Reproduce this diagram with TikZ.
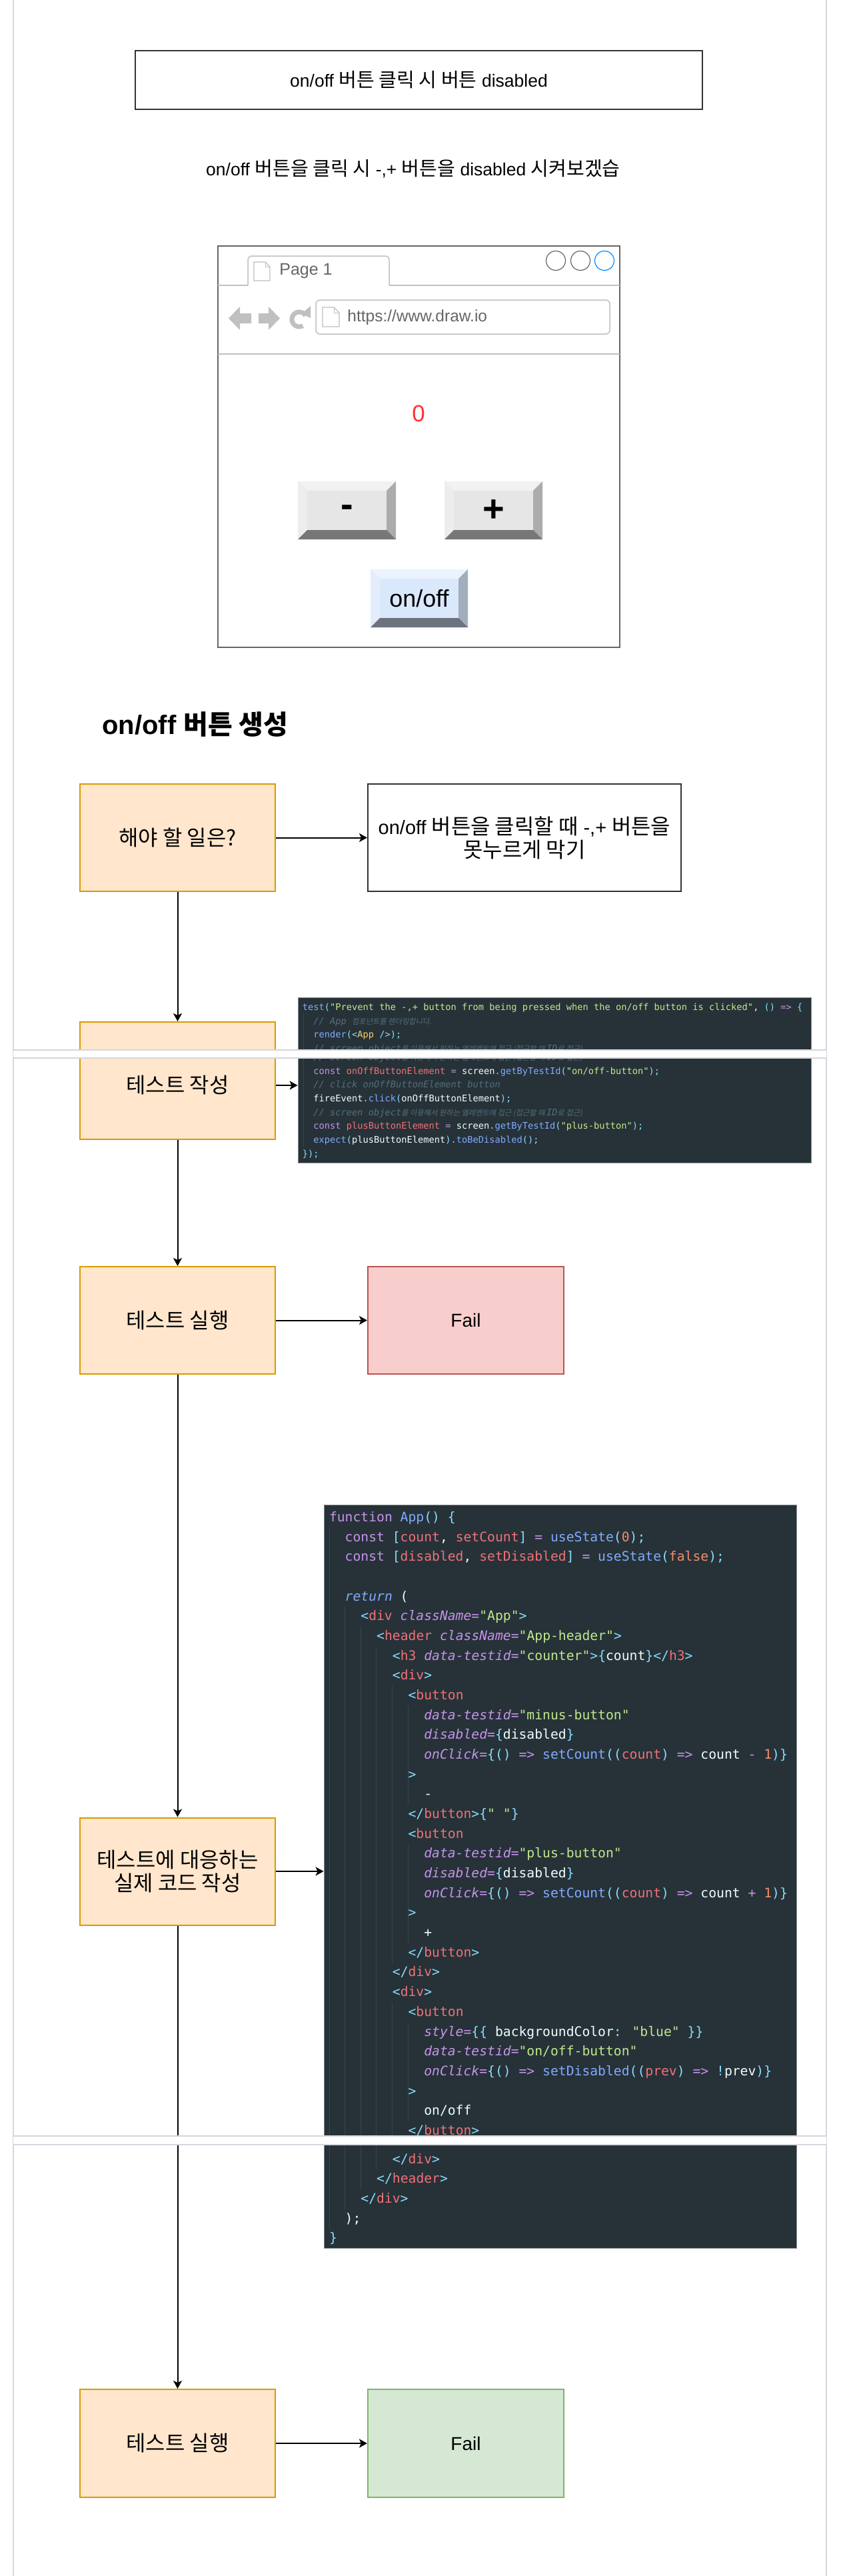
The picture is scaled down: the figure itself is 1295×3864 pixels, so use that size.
\documentclass[tikz,border=0pt]{standalone}
\usepackage{fontspec}
\setmainfont{Liberation Sans}
\newfontfamily\kr[Scale=1.1]{Noto Sans CJK KR}
\newfontfamily\krh{Noto Sans CJK KR}
\newfontfamily\krit[FakeSlant=0.2,Scale=0.82]{Noto Sans CJK KR}
\newfontfamily\codefont{DejaVu Sans Mono}
\usetikzlibrary{arrows.meta}
\definecolor{cOrgF}{HTML}{FFE6CC}
\definecolor{cOrgS}{HTML}{D79B00}
\definecolor{cRedF}{HTML}{F8CECC}
\definecolor{cRedS}{HTML}{B85450}
\definecolor{cGrnF}{HTML}{D5E8D4}
\definecolor{cGrnS}{HTML}{82B366}
\definecolor{cPage}{HTML}{D4D7DD}
\definecolor{cDark}{HTML}{333333}
\definecolor{cBr}{HTML}{666666}
\definecolor{cLt}{HTML}{C0C0C0}
\definecolor{cBlueC}{HTML}{008CFF}
\definecolor{cZero}{HTML}{FF3333}
\definecolor{cdBg}{HTML}{263238}
\definecolor{cdGuide}{HTML}{36454E}
\definecolor{cdBorder}{HTML}{8A9096}
\definecolor{cdBlue}{HTML}{82AAFF}
\definecolor{cdCyan}{HTML}{89DDFF}
\definecolor{cdGreen}{HTML}{C3E88D}
\definecolor{cdRed}{HTML}{F07178}
\definecolor{cdPurple}{HTML}{C792EA}
\definecolor{cdOrange}{HTML}{F78C6C}
\definecolor{cdYellow}{HTML}{FFCB6B}
\definecolor{cdWhite}{HTML}{EEFFFF}
\definecolor{cdComment}{HTML}{546E7A}
\definecolor{gbFace}{HTML}{E6E6E6}
\definecolor{gbTop}{HTML}{F2F2F2}
\definecolor{gbLeft}{HTML}{EDEDED}
\definecolor{gbRight}{HTML}{ACACAC}
\definecolor{gbBot}{HTML}{777777}
\definecolor{bbFace}{HTML}{DAE8FC}
\definecolor{bbTop}{HTML}{EBF3FE}
\definecolor{bbLeft}{HTML}{E3EDFC}
\definecolor{bbRight}{HTML}{A3AEBD}
\definecolor{bbBot}{HTML}{6C727E}
\newcommand\cdB[1]{\textcolor{cdBlue}{#1}}
\newcommand\cdC[1]{\textcolor{cdCyan}{#1}}
\newcommand\cdG[1]{\textcolor{cdGreen}{#1}}
\newcommand\cdR[1]{\textcolor{cdRed}{#1}}
\newcommand\cdP[1]{\textcolor{cdPurple}{#1}}
\newcommand\cdO[1]{\textcolor{cdOrange}{#1}}
\newcommand\cdY[1]{\textcolor{cdYellow}{#1}}
\newcommand\cdW[1]{\textcolor{cdWhite}{#1}}
\newcommand\cdI[1]{\textcolor{cdPurple}{\itshape #1}}
\newcommand\cdK[1]{\textcolor{cdComment}{\itshape #1}}
\newcommand\cdScreenCmt{\cdK{// screen object{\krit 를 이용해서 원하는 엘레멘트에 접근 (접근할 때 }ID{\krit 로 접근)}}}
\newcommand\bevelbtn[9]{%
  \fill[#5] (#1,#2) rectangle (#3,#4);
  \fill[#6] (#1,#2) -- (#3,#2) -- ({#3-14},{#2+14}) -- ({#1+14},{#2+14}) -- cycle;
  \fill[#7] (#1,#2) -- ({#1+14},{#2+14}) -- ({#1+14},{#4-14}) -- (#1,#4) -- cycle;
  \fill[#8] (#3,#2) -- (#3,#4) -- ({#3-14},{#4-14}) -- ({#3-14},{#2+14}) -- cycle;
  \fill[#9] (#1,#4) -- ({#1+14},{#4-14}) -- ({#3-14},{#4-14}) -- (#3,#4) -- cycle;
}
\begin{document}
\begin{tikzpicture}[x=0.5pt,y=-0.5pt,
  obox/.style={draw=cOrgS, fill=cOrgF, line width=1pt, minimum width=146.5pt, minimum height=80.5pt, inner sep=0pt, align=center, font=\kr\fontsize{14.5pt}{17.5pt}\selectfont},
  redbox/.style={draw=cRedS, fill=cRedF, line width=1pt, minimum width=147pt, minimum height=80.5pt, inner sep=0pt, font=\fontsize{14pt}{17pt}\selectfont},
  grnbox/.style={draw=cGrnS, fill=cGrnF, line width=1pt, minimum width=147pt, minimum height=81pt, inner sep=0pt, font=\fontsize{14pt}{17pt}\selectfont},
  wbox/.style={draw=cDark, fill=white, line width=1pt, inner sep=0pt, align=center},
  boxtext/.style={inner sep=0pt, font=\kr\fontsize{14.5pt}{17.5pt}\selectfont},
  arr/.style={-{Stealth[length=6pt,width=6.5pt,inset=1.5pt]}, line width=1pt, black},
  codebg/.style={fill=cdBg, draw=cdBorder, line width=0.4pt, inner sep=0pt},
  cone/.style={anchor=mid west, inner sep=0pt, text=cdWhite, font=\codefont\fontsize{6.85pt}{8pt}\selectfont},
  ctwo/.style={anchor=mid west, inner sep=0pt, text=cdWhite, font=\codefont\fontsize{9.85pt}{11pt}\selectfont},
  guide/.style={draw=cdGuide, line width=0.5pt},
  pageline/.style={draw=cPage, line width=0.75pt}
]
\useasboundingbox (0,0) rectangle (1295,3864);
\fill[white] (0,0) rectangle (1295,3864);
\draw[pageline] (20,0) -- (20,3864);
\draw[pageline] (1240,0) -- (1240,3864);

% title and subtitle
\node[wbox, minimum width=425.5pt, minimum height=44pt, font=\fontsize{13.25pt}{16pt}\selectfont] (title) at (628.5,120) {on/off {\kr 버튼 클릭 시 버튼} disabled};
\node[inner sep=0pt, font=\fontsize{13.25pt}{16pt}\selectfont] (subtitle) at (620,253) {on/off {\kr 버튼을 클릭 시} -,+ {\kr 버튼을} disabled {\kr 시켜보겠습}};

% browser mockup
\node[draw=cBr, fill=white, line width=0.9pt, minimum width=301.5pt, minimum height=301pt, inner sep=0pt] (browser) at (628.5,670) {};
\draw[cLt, line width=0.75pt, fill=white, rounded corners=3pt] (372,428) -- (372,384) -- (584,384) -- (584,428);
\draw[cLt, line width=0.75pt] (327,428) -- (372,428) (584,428) -- (930,428);
\draw[cLt, line width=0.6pt, fill=white] (381,393) -- (398,393) -- (405,400) -- (405,421) -- (381,421) -- cycle;
\draw[cLt, line width=0.5pt] (398,393) -- (398,400) -- (405,400);
\node[anchor=west, text=cBr, inner sep=0pt, font=\fontsize{12.5pt}{15pt}\selectfont] (tabtext) at (419,406) {Page 1};
\draw[cBr, line width=0.6pt] (834,391) circle[radius=7.25pt];
\draw[cBr, line width=0.6pt] (871,391) circle[radius=7.25pt];
\draw[cBlueC, line width=0.6pt] (907,391) circle[radius=7.25pt];
\fill[cLt] (343,477.5) -- (360,460) -- (360,470) -- (377,470) -- (377,485) -- (360,485) -- (360,495) -- cycle;
\fill[cLt] (420,477.5) -- (403,460) -- (403,470) -- (388,470) -- (388,485) -- (403,485) -- (403,495) -- cycle;
\draw[cLt, line width=3.5pt] plot[domain=60:330, samples=40, variable=\t] ({449+11*cos(\t)},{479+11*sin(\t)});
\fill[cLt] (452,471) -- (466,459) -- (466,477) -- cycle;
\draw[cLt, line width=0.75pt, rounded corners=3pt] (474,450) rectangle (915,501);
\draw[cLt, line width=0.6pt, fill=white] (484,461) -- (501,461) -- (509,469) -- (509,490) -- (484,490) -- cycle;
\draw[cLt, line width=0.5pt] (501,461) -- (501,469) -- (509,469);
\node[anchor=west, text=cBr, inner sep=0pt, font=\fontsize{12.25pt}{15pt}\selectfont] (url) at (521,476) {https://www.draw.io};
\draw[cLt, line width=0.75pt] (327,531) -- (930,531);
\node[text=cZero, inner sep=0pt, font=\fontsize{17.5pt}{20pt}\selectfont] (zero) at (628,620) {0};
\bevelbtn{447}{722}{594}{809}{gbFace}{gbTop}{gbLeft}{gbRight}{gbBot}
\bevelbtn{667}{722}{814}{809}{gbFace}{gbTop}{gbLeft}{gbRight}{gbBot}
\bevelbtn{556}{854}{702}{941}{bbFace}{bbTop}{bbLeft}{bbRight}{bbBot}
\node[inner sep=0pt, font=\bfseries\fontsize{28pt}{30pt}\selectfont] (minus) at (520.5,767) {-};
\node[inner sep=0pt, font=\bfseries\fontsize{28pt}{30pt}\selectfont] (plus) at (740.5,766) {+};
\node[inner sep=0pt, font=\fontsize{18pt}{20pt}\selectfont] (onoff) at (629,898) {on/off};

% heading
\node[anchor=west, inner sep=0pt, font=\bfseries\fontsize{20pt}{24pt}\selectfont] (heading) at (153,1087) {on/off {\krh\bfseries 버튼 생성}};

% flow
\node[obox] (todo) at (266.5,1256.5) {해야 할 일은?};
\node[wbox, minimum width=235pt, minimum height=80.5pt, font=\fontsize{14.5pt}{17.5pt}\selectfont] (goal) at (787,1256.5) {on/off {\kr 버튼을 클릭할 때} -,+ {\kr 버튼을}\\{\kr 못누르게 막기}};
\node[obox, minimum height=88pt] (write) at (266.5,1621) {};
\node[boxtext] (writet) at (266.5,1628) {테스트 작성};
\node[obox] (run1) at (266.5,1980.5) {테스트 실행};
\node[redbox] (fail1) at (699,1980.5) {Fail};
\node[obox] (impl) at (266.5,2807) {테스트에 대응하는\\실제 코드 작성};
\node[obox, minimum height=81pt] (run2) at (266.5,3665) {테스트 실행};
\node[grnbox] (fail2) at (699,3665) {Fail};

% code image 1
\node[codebg, minimum width=385pt, minimum height=124pt] (code1) at (832,1620) {};
\draw[guide] (455,1520) -- (455,1720);
\begin{scope}
\clip (447,1496) rectangle (1217,1575);
\node[cone] (ca0) at (453.5,1510) {\cdB{test}\cdC{(}\cdG{"Prevent the -,+ button from being pressed when the on/off button is clicked"}\cdW{,} \cdC{()} \cdP{=>} \cdC{\{}};
\node[cone] (ca1) at (470,1530.7) {\cdK{// App {\krit 컴포넌트를 렌더링합니다.}}};
\node[cone] (ca2) at (470,1551.4) {\cdB{render}\cdC{(<}\cdY{App} \cdC{/>);}};
\node[cone] (ca3) at (470,1572.1) {\cdScreenCmt};
\end{scope}
\begin{scope}
\clip (447,1587) rectangle (1217,1744);
\node[cone] (cb3) at (470,1585.1) {\cdScreenCmt};
\node[cone] (cb4) at (470,1605.8) {\cdP{const} \cdR{onOffButtonElement} \cdP{=} \cdW{screen}\cdC{.}\cdB{getByTestId}\cdC{(}\cdG{"on/off-button"}\cdC{);}};
\node[cone] (cb5) at (470,1626.5) {\cdK{// click onOffButtonElement button}};
\node[cone] (cb6) at (470,1647.2) {\cdW{fireEvent}\cdC{.}\cdB{click}\cdC{(}\cdW{onOffButtonElement}\cdC{);}};
\node[cone] (cb7) at (470,1667.9) {\cdScreenCmt};
\node[cone] (cb8) at (470,1688.6) {\cdP{const} \cdR{plusButtonElement} \cdP{=} \cdW{screen}\cdC{.}\cdB{getByTestId}\cdC{(}\cdG{"plus-button"}\cdC{);}};
\node[cone] (cb9) at (470,1709.3) {\cdB{expect}\cdC{(}\cdW{plusButtonElement}\cdC{).}\cdB{toBeDisabled}\cdC{();}};
\node[cone] (cb10) at (453.5,1730) {\cdC{\});}};
\end{scope}

% code image 2
\node[codebg, minimum width=354.5pt, minimum height=557.5pt] (code2) at (840.5,2814.5) {};
\draw[guide] (494,2292) -- (494,3344);
\draw[guide] (517.3,2410) -- (517.3,3314);
\draw[guide] (541,2440) -- (541,3284);
\draw[guide] (564.8,2470) -- (564.8,3255);
\draw[guide] (588.5,2529) -- (588.5,2945);
\draw[guide] (588.5,3004) -- (588.5,3212);
\draw[guide] (612.2,2559) -- (612.2,2707);
\draw[guide] (612.2,2767) -- (612.2,2915);
\draw[guide] (612.2,3034) -- (612.2,3182);
\begin{scope}
\clip (486,2257) rectangle (1195,3204);
\node[ctwo] (k0) at (493.6,2277.0) {\cdP{function} \cdB{App}\cdC{()} \cdC{\{}};
\node[ctwo] (k1) at (517.3,2306.7) {\cdP{const} \cdC{[}\cdR{count}\cdW{,} \cdR{setCount}\cdC{]} \cdP{=} \cdB{useState}\cdC{(}\cdO{0}\cdC{);}};
\node[ctwo] (k2) at (517.3,2336.4) {\cdP{const} \cdC{[}\cdR{disabled}\cdW{,} \cdR{setDisabled}\cdC{]} \cdP{=} \cdB{useState}\cdC{(}\cdO{false}\cdC{);}};
\node[ctwo] (k4) at (517.3,2395.7) {\textcolor{cdBlue}{\itshape return} \cdW{(}};
\node[ctwo] (k5) at (541.0,2425.4) {\cdC{<}\cdR{div} \cdI{className}\cdP{=}\cdG{"App"}\cdC{>}};
\node[ctwo] (k6) at (564.8,2455.1) {\cdC{<}\cdR{header} \cdI{className}\cdP{=}\cdG{"App-header"}\cdC{>}};
\node[ctwo] (k7) at (588.5,2484.8) {\cdC{<}\cdR{h3} \cdI{data-testid}\cdP{=}\cdG{"counter"}\cdC{>\{}\cdW{count}\cdC{\}</}\cdR{h3}\cdC{>}};
\node[ctwo] (k8) at (588.5,2514.4) {\cdC{<}\cdR{div}\cdC{>}};
\node[ctwo] (k9) at (612.2,2544.1) {\cdC{<}\cdR{button}};
\node[ctwo] (k10) at (635.9,2573.8) {\cdI{data-testid}\cdP{=}\cdG{"minus-button"}};
\node[ctwo] (k11) at (635.9,2603.5) {\cdI{disabled}\cdP{=}\cdC{\{}\cdW{disabled}\cdC{\}}};
\node[ctwo] (k12) at (635.9,2633.2) {\cdI{onClick}\cdP{=}\cdC{\{()} \cdP{=>} \cdB{setCount}\cdC{((}\cdR{count}\cdC{)} \cdP{=>} \cdW{count} \cdP{-} \cdO{1}\cdC{)\}}};
\node[ctwo] (k13) at (612.2,2662.8) {\cdC{>}};
\node[ctwo] (k14) at (635.9,2692.5) {\cdW{-}};
\node[ctwo] (k15) at (612.2,2722.2) {\cdC{</}\cdR{button}\cdC{>\{}\cdG{" "}\cdC{\}}};
\node[ctwo] (k16) at (612.2,2751.9) {\cdC{<}\cdR{button}};
\node[ctwo] (k17) at (635.9,2781.6) {\cdI{data-testid}\cdP{=}\cdG{"plus-button"}};
\node[ctwo] (k18) at (635.9,2811.2) {\cdI{disabled}\cdP{=}\cdC{\{}\cdW{disabled}\cdC{\}}};
\node[ctwo] (k19) at (635.9,2840.9) {\cdI{onClick}\cdP{=}\cdC{\{()} \cdP{=>} \cdB{setCount}\cdC{((}\cdR{count}\cdC{)} \cdP{=>} \cdW{count} \cdP{+} \cdO{1}\cdC{)\}}};
\node[ctwo] (k20) at (612.2,2870.6) {\cdC{>}};
\node[ctwo] (k21) at (635.9,2900.3) {\cdW{+}};
\node[ctwo] (k22) at (612.2,2930.0) {\cdC{</}\cdR{button}\cdC{>}};
\node[ctwo] (k23) at (588.5,2959.6) {\cdC{</}\cdR{div}\cdC{>}};
\node[ctwo] (k24) at (588.5,2989.3) {\cdC{<}\cdR{div}\cdC{>}};
\node[ctwo] (k25) at (612.2,3019.0) {\cdC{<}\cdR{button}};
\node[ctwo] (k26) at (635.9,3048.7) {\cdI{style}\cdP{=}\cdC{\{\{} \cdW{backgroundColor}\cdC{:} \cdG{"blue"} \cdC{\}\}}};
\node[ctwo] (k27) at (635.9,3078.4) {\cdI{data-testid}\cdP{=}\cdG{"on/off-button"}};
\node[ctwo] (k28) at (635.9,3108.0) {\cdI{onClick}\cdP{=}\cdC{\{()} \cdP{=>} \cdB{setDisabled}\cdC{((}\cdR{prev}\cdC{)} \cdP{=>} \cdC{!}\cdW{prev}\cdC{)\}}};
\node[ctwo] (k29) at (612.2,3137.7) {\cdC{>}};
\node[ctwo] (k30) at (635.9,3167.4) {\cdW{on/off}};
\node[ctwo] (k31) at (612.2,3197.1) {\cdC{</}\cdR{button}\cdC{>}};
\end{scope}
\begin{scope}
\clip (486,3217) rectangle (1195,3372);
\node[ctwo] (m31) at (612.2,3210.1) {\cdC{</}\cdR{button}\cdC{>}};
\node[ctwo] (m32) at (588.5,3239.8) {\cdC{</}\cdR{div}\cdC{>}};
\node[ctwo] (m33) at (564.8,3269.4) {\cdC{</}\cdR{header}\cdC{>}};
\node[ctwo] (m34) at (541.0,3299.1) {\cdC{</}\cdR{div}\cdC{>}};
\node[ctwo] (m35) at (517.3,3328.8) {\cdW{);}};
\node[ctwo] (m36) at (493.6,3358.5) {\cdC{\}}};
\end{scope}

% connectors
\draw[arr] (todo.east) -- (goal.west);
\draw[arr] (todo.south) -- (write.north);
\draw[arr] (writet -| write.east) -- (writet -| code1.west);
\draw[arr] (write.south) -- (run1.north);
\draw[arr] (run1.east) -- (fail1.west);
\draw[arr] (run1.south) -- (impl.north);
\draw[arr] (impl.east) -- (impl.east -| code2.west);
\draw[arr] (impl.south) -- (run2.north);
\draw[arr] (run2.east) -- (fail2.west);

% page break bands
\fill[white] (20,1575) rectangle (1240,1587);
\draw[pageline] (20,1575) -- (1240,1575) (20,1587) -- (1240,1587);
\fill[white] (20,3204) rectangle (1240,3217);
\draw[pageline] (20,3204) -- (1240,3204) (20,3217) -- (1240,3217);
\end{tikzpicture}
\end{document}
